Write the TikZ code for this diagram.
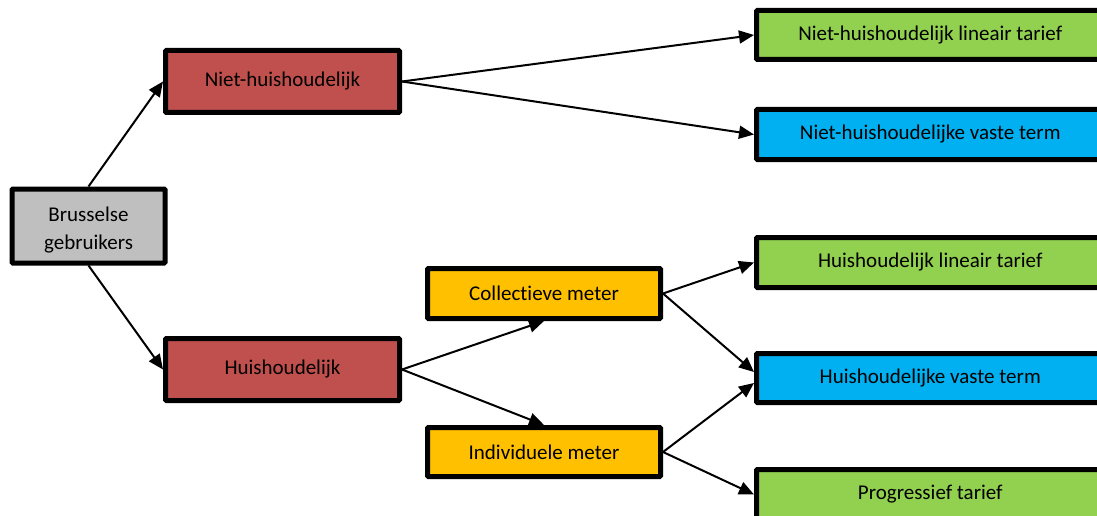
\documentclass[tikz,border=0pt]{standalone}
\usepackage{fontspec}
\setmainfont{Carlito}[Ligatures=NoCommon]
\usetikzlibrary{arrows.meta}
\definecolor{usergray}{HTML}{BFBFBF}
\definecolor{groupred}{HTML}{C0504D}
\definecolor{meterorange}{HTML}{FFC000}
\definecolor{tariffgreen}{HTML}{92D050}
\definecolor{termblue}{HTML}{00B0F0}
\begin{document}
\begin{tikzpicture}[x=1pt, y=-1pt,
    box/.style={draw, line width=5pt, rounded corners=1pt, inner sep=0pt,
      align=center, font=\fontsize{21}{28}\selectfont},
    arr/.style={-{Triangle[length=15pt,width=13pt]}, line width=2pt}]
      \useasboundingbox (0,0) rectangle (1097,516);

      \node[box, fill=usergray, minimum width=153pt, minimum height=74pt,
        label={[font=\fontsize{21}{28}\selectfont, align=center, yshift=-4pt]center:Brusselse\\gebruikers}] (users) at (88.5,226) {};

      \node[box, fill=groupred, minimum width=234pt, minimum height=62pt] (nonhh) at (282.5,81.5) {Niet-huishoudelijk};
      \node[box, fill=groupred, minimum width=234pt, minimum height=62pt] (hh) at (282.5,369.5) {Huishoudelijk};

      \node[box, fill=meterorange, minimum width=233pt, minimum height=50pt] (collective) at (544,293.5) {Collectieve meter};
      \node[box, fill=meterorange, minimum width=233pt, minimum height=49pt] (individual) at (544,452) {Individuele meter};

      \node[box, fill=tariffgreen, minimum width=347.5pt, minimum height=49pt] (nonhhlin) at (930.25,35) {Niet-huishoudelijk lineair tarief};
      \node[box, fill=termblue, minimum width=347.5pt, minimum height=50pt] (nonhhfix) at (930.25,134.5) {Niet-huishoudelijke vaste term};
      \node[box, fill=tariffgreen, minimum width=347.5pt, minimum height=50pt] (hhlin) at (930.25,262.5) {Huishoudelijk lineair tarief};
      \node[box, fill=termblue, minimum width=347.5pt, minimum height=49pt] (hhfix) at (930.25,378) {Huishoudelijke vaste term};
      \node[box, fill=tariffgreen, minimum width=347.5pt, minimum height=50pt] (progressive) at (930.25,494.5) {Progressief tarief};

      \draw[arr] (users.north) to (nonhh.west);
      \draw[arr] (users.south) to (hh.west);
      \draw[arr] (nonhh.east) to (nonhhlin.west);
      \draw[arr] (nonhh.east) to (nonhhfix.west);
      \draw[arr] (hh.east) to (collective.south);
      \draw[arr] (hh.east) to (individual.north);
      \draw[arr] (collective.east) to (hhlin.west);
      \draw[arr] (collective.east) to ([yshift=6pt]hhfix.west);
      \draw[arr] (individual.east) to ([yshift=-5pt]hhfix.west);
      \draw[arr] (individual.east) to (progressive.west);
    \end{tikzpicture}
\end{document}
